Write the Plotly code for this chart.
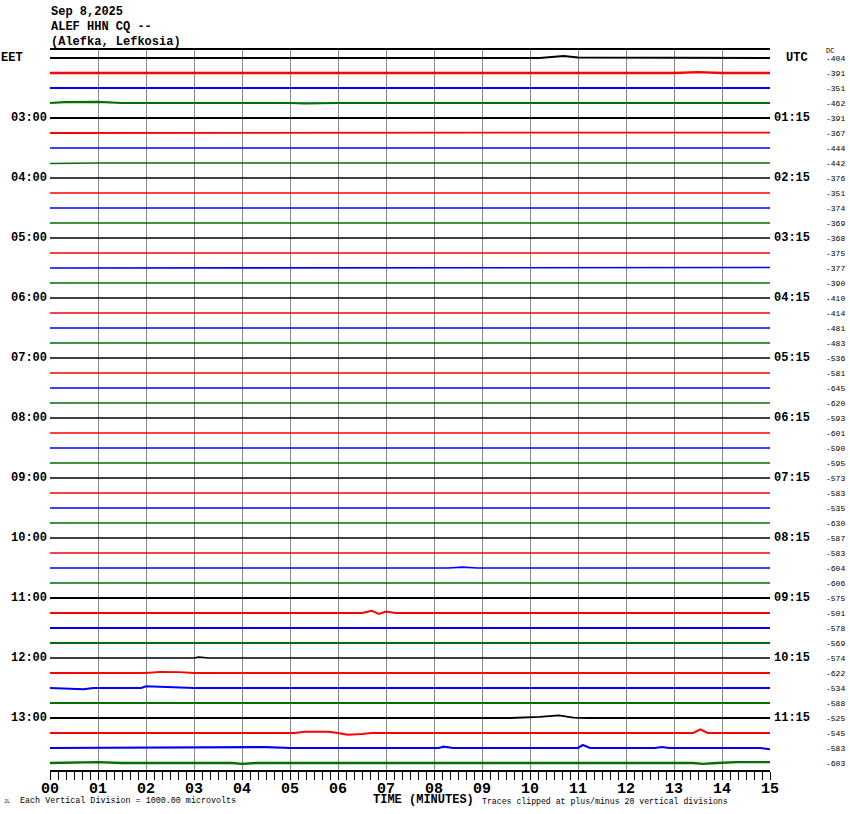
import plotly.graph_objects as go

# ---------------- data ----------------
title_lines = ["Sep 8,2025", "ALEF HHN CQ --", "(Alefka, Lefkosia)"]
trace_colors = ["black", "red", "blue", "#007000"]  # cycle per row
eet_labels = ["03:00", "04:00", "05:00", "06:00", "07:00", "08:00",
              "09:00", "10:00", "11:00", "12:00", "13:00"]
utc_labels = ["01:15", "02:15", "03:15", "04:15", "05:15", "06:15",
              "07:15", "08:15", "09:15", "10:15", "11:15"]
dc_offsets = [-404, -391, -351, -462, -391, -367, -444, -442,
              -376, -351, -374, -369, -368, -375, -377, -390,
              -410, -414, -481, -483, -536, -581, -645, -620,
              -593, -601, -590, -595, -573, -583, -535, -630,
              -587, -583, -604, -606, -575, -501, -578, -569,
              -574, -622, -534, -588, -525, -545, -583, -603]
minute_ticks = list(range(16))
minute_labels = ["%02d" % m for m in minute_ticks]

# estimated noise half-amplitude of each trace (microvolts)
noise_uv = [100, 110, 95, 105, 85, 85, 80, 75,
            65, 65, 70, 65, 65, 70, 75, 70,
            75, 75, 70, 70, 65, 65, 70, 65,
            70, 70, 65, 65, 65, 70, 70, 70,
            70, 75, 80, 75, 85, 90, 85, 85,
            80, 85, 95, 85, 85, 95, 100, 110]

# slow wander of each trace, knots (minute, microvolts)
F = [(0, 0), (15, 0)]
trace_wander = [
    [(0, 0), (10.2, 0), (10.7, 130), (11.0, 30), (15, 0)],
    [(0, 0), (9.5, 0), (10, 40), (10.5, 0), (13.0, 0), (13.5, 60), (14, 0), (15, 0)],
    F,
    [(0, 0), (0.3, 60), (1.0, 70), (1.5, 0), (5, 0), (5.3, -30), (6, 0), (15, 0)],
    F,
    [(0, 0), (13, 0), (14, 40), (15, 30)],
    F,
    [(0, -30), (1, 0), (15, 0)],
    F, F, F, F,
    F, F,
    [(0, 0), (14, 0), (14.5, 40), (15, 30)],
    F,
    [(0, 0), (4.8, 0), (4.9, 50), (5.0, 0), (15, 0)],
    [(0, 0), (4.8, 0), (4.9, 40), (5.0, 0), (15, 0)],
    F, F,
    F, F, F, F,
    F, F, F, F,
    F, F, F, F,
    F, F,
    [(0, 0), (8.3, 0), (8.6, 60), (8.9, 0), (15, 0)],
    F,
    F,
    [(0, 0), (6.5, 0), (6.7, 150), (6.85, -60), (7.0, 100), (7.2, 0), (15, 0)],
    F, F,
    [(0, 0), (3.0, 0), (3.1, 60), (3.3, 0), (15, 0)],
    [(0, 0), (1.0, 0), (1.5, -50), (2.0, 0), (2.3, 70), (2.7, 60), (3.0, 0), (15, 0)],
    [(0, 0), (0.35, -60), (0.7, -80), (0.9, 0), (1.9, 0), (2.0, 120), (2.4, 80),
     (2.7, 30), (3, 0), (15, 0)],
    F,
    [(0, 0), (9.6, 0), (10.2, 70), (10.6, 170), (10.9, 30), (11.2, 0), (15, 0)],
    [(0, 0), (5.1, 0), (5.3, 90), (5.8, 80), (6.0, 0), (6.2, -110), (6.5, -60),
     (6.7, 0), (13.4, 0), (13.55, 250), (13.7, 0), (15, 0)],
    [(0, 0), (4.5, 60), (5.0, 0), (8.1, 0), (8.2, 90), (8.4, 0), (11.0, 0),
     (11.1, 200), (11.25, 0), (12.6, 0), (12.75, 70), (12.9, 0), (14.8, 0), (15, -80)],
    [(0, 0), (1.0, 60), (1.5, 0), (3.8, 0), (4.0, -60), (4.3, 0), (13.4, 0),
     (13.6, -60), (13.9, 0), (14.3, 60), (15, 60)],
]

UV_PER_ROW = 1000.0  # one vertical division (= row spacing) in microvolts

# ---------------- figure ----------------
W, H = 850, 814
L, R, T, B = 50, 80, 50, 44
PW = W - L - R
PH = H - T - B


def px_x(p):
    return (p - L) / PW


def px_y(p):
    return (H - B - p) / PH


fig = go.Figure()
n_rows = len(dc_offsets)
for i in range(n_rows):
    knots = trace_wander[i]
    xs = [k[0] for k in knots]
    ys = [-i + k[1] / UV_PER_ROW for k in knots]
    fig.add_trace(go.Scatter(
        x=xs, y=ys, mode="lines",
        line=dict(color=trace_colors[i % 4],
                  width=max(1.3, noise_uv[i] * 0.021)),
        hoverinfo="skip", showlegend=False))

mono = "Liberation Mono"
ann = []
for j, lab in enumerate(title_lines):
    ann.append(dict(text="<b>%s</b>" % lab, x=px_x(49), y=px_y(12 + 15 * j),
                    xref="paper", yref="paper", xanchor="left", yanchor="middle",
                    showarrow=False, font=dict(family=mono, size=12, color="black")))
ann.append(dict(text="<b>EET</b>", x=px_x(-1), y=0, xref="paper", yref="y",
                xanchor="left", yanchor="middle", showarrow=False,
                font=dict(family=mono, size=12, color="black")))
ann.append(dict(text="<b>UTC</b>", x=px_x(784), y=0, xref="paper", yref="y",
                xanchor="left", yanchor="middle", showarrow=False,
                font=dict(family=mono, size=12, color="black")))
for k, lab in enumerate(eet_labels):
    r = 4 * (k + 1)
    ann.append(dict(text="<b>%s</b>" % lab, x=px_x(49), y=-r, xref="paper", yref="y",
                    xanchor="right", yanchor="middle", showarrow=False,
                    font=dict(family=mono, size=12, color="black")))
    ann.append(dict(text="<b>%s</b>" % utc_labels[k], x=px_x(772), y=-r, xref="paper",
                    yref="y", xanchor="left", yanchor="middle", showarrow=False,
                    font=dict(family=mono, size=12, color="black")))
for i, v in enumerate(dc_offsets):
    ann.append(dict(text=str(v), x=px_x(847), y=-i, xref="paper", yref="y",
                    xanchor="right", yanchor="middle", showarrow=False,
                    font=dict(family=mono, size=8, color="black")))
ann.append(dict(text="DC", x=px_x(824), y=0.5, xref="paper", yref="y",
                xanchor="left", yanchor="middle", showarrow=False,
                font=dict(family=mono, size=7, color="black")))
ann.append(dict(text="<b>TIME (MINUTES)</b>", x=px_x(423), y=px_y(800), xref="paper",
                yref="paper", xanchor="center", yanchor="middle", showarrow=False,
                font=dict(family=mono, size=12, color="black")))
ann.append(dict(text="Each Vertical Division = 1000.00 microvolts", x=px_x(18),
                y=px_y(801), xref="paper", yref="paper", xanchor="left",
                yanchor="middle", showarrow=False,
                font=dict(family=mono, size=8.4, color="black")))
ann.append(dict(text="Traces clipped at plus/minus 20 vertical divisions", x=px_x(480),
                y=px_y(801), xref="paper", yref="paper", xanchor="left",
                yanchor="middle", showarrow=False,
                font=dict(family=mono, size=8.2, color="black")))
ann.append(dict(text="JL", x=px_x(2), y=px_y(802), xref="paper", yref="paper",
                xanchor="left", yanchor="middle", showarrow=False,
                font=dict(family=mono, size=5, color="black")))

fig.update_layout(
    width=W, height=H,
    margin=dict(l=L, r=R, t=T, b=B, pad=0, autoexpand=False),
    paper_bgcolor="white", plot_bgcolor="white",
    annotations=ann,
    xaxis=dict(range=[0, 15], tickvals=minute_ticks, ticktext=minute_labels,
               showgrid=True, gridcolor="#8a8a8a", gridwidth=1,
               zeroline=False, showline=True, linecolor="black", linewidth=2,
               mirror=True, ticks="outside", ticklen=8, tickwidth=1.2,
               tickcolor="black", ticklabelstandoff=-5, automargin=False,
               minor=dict(dtick=1 / 6, ticks="outside", ticklen=8, tickwidth=1.2,
                          tickcolor="black", showgrid=False),
               tickfont=dict(family=mono, size=15, color="black", weight="bold"),
               fixedrange=True),
    yaxis=dict(range=[-(n_rows - 1) - 7 / 15, 8 / 15], showticklabels=False,
               showgrid=False, zeroline=False, showline=False, ticks="",
               fixedrange=True),
)
fig.write_html("out.html", post_script="document.body.style.margin='0';",
               config={"displayModeBar": False})
